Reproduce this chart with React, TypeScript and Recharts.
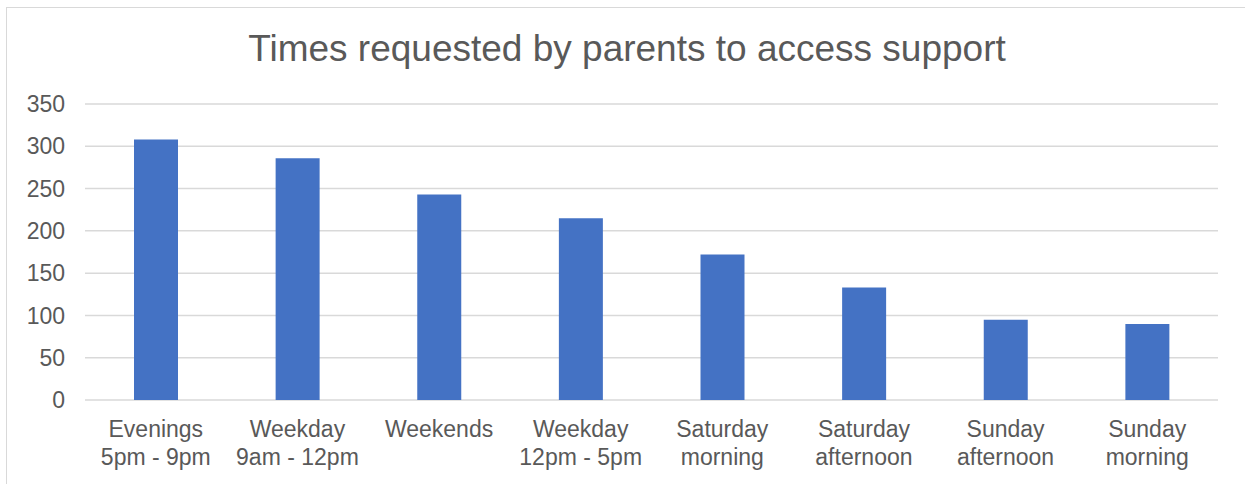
import { BarChart, Bar, XAxis, YAxis, CartesianGrid } from "recharts";

const categories = [
  "Evenings\n5pm - 9pm",
  "Weekday\n9am - 12pm",
  "Weekends",
  "Weekday\n12pm - 5pm",
  "Saturday\nmorning",
  "Saturday\nafternoon",
  "Sunday\nafternoon",
  "Sunday\nmorning",
];

const requests = [308, 286, 243, 215, 172, 133, 95, 90];

const yTicks = [0, 50, 100, 150, 200, 250, 300, 350];

const data = categories.map((name, i) => ({ name, requests: requests[i] }));

const FONT = "'Liberation Sans', Arial, sans-serif";
const TEXT = "#595959";

// two-line category labels
const CategoryTick = ({ x, y, payload }: any) => {
  const lines = String(payload.value).split("\n");
  return (
    <text
      x={x}
      y={y}
      textAnchor="middle"
      fill={TEXT}
      fontSize={23}
      fontFamily={FONT}
    >
      {lines.map((line, i) => (
        <tspan key={i} x={x} dy={i === 0 ? 29 : 27.5}>
          {line}
        </tspan>
      ))}
    </text>
  );
};

export default function App() {
  return (
    <div
      style={{
        position: "absolute",
        left: 0,
        top: 0,
        width: 1245,
        height: 484,
        overflow: "hidden",
        background: "#fff",
      }}
    >
      <div
        style={{
          position: "absolute",
          left: 6,
          top: 7,
          width: 1300,
          height: 600,
          border: "1px solid #d9d9d9",
        }}
      />
      <div
        style={{
          position: "absolute",
          left: 127,
          top: 30,
          width: 1000,
          textAlign: "center",
          fontFamily: FONT,
          fontSize: 37,
          lineHeight: "37px",
          color: TEXT,
        }}
      >
        Times requested by parents to access support
      </div>
      <div style={{ position: "absolute", left: 0, top: 0 }}>
        <BarChart
          width={1245}
          height={484}
          data={data}
          margin={{ top: 104, right: 27, left: 0, bottom: 0 }}
        >
          <CartesianGrid vertical={false} stroke="#d9d9d9" strokeWidth={1.5} />
          <XAxis
            dataKey="name"
            height={84}
            axisLine={false}
            tickLine={false}
            interval={0}
            tick={<CategoryTick />}
          />
          <YAxis
            width={85}
            domain={[0, 350]}
            ticks={yTicks}
            axisLine={false}
            tickLine={false}
            tickMargin={14}
            tick={{ fill: TEXT, fontSize: 23, fontFamily: FONT }}
          />
          <Bar
            dataKey="requests"
            fill="#4472C4"
            barSize={44}
            isAnimationActive={false}
          />
        </BarChart>
      </div>
    </div>
  );
}
